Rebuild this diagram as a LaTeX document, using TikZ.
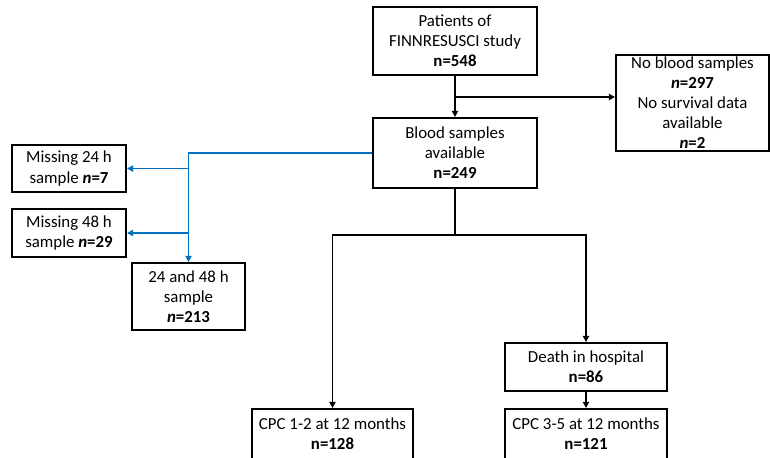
\documentclass[tikz,border=0pt]{standalone}
\usepackage{fontspec}
\setmainfont{Carlito}
\usetikzlibrary{arrows.meta}
\definecolor{flowblue}{RGB}{0,112,192}
\begin{document}
\begin{tikzpicture}[x=0.02cm, y=-0.02cm,
	box/.style={shape=rectangle, draw=black, line width=1.1pt, inner sep=0pt, align=center, font=\fontsize{9.6}{11.4}\selectfont},
	flow/.style={line width=1.1pt, -{Triangle[length=3.5pt,width=3.5pt]}},
	side/.style={flow, draw=flowblue}]
	\useasboundingbox (0,0) rectangle (770,457);
	\draw (455,41) node[box, minimum width=3.28cm, minimum height=1.36cm](pat){Patients of\\FINNRESUSCI study\\\textbf{n=548}};
	\draw (692.5,103) node[box, minimum width=3.06cm, minimum height=1.92cm](nob){No blood samples\\\textbf{\textit{n}=297}\\No survival data\\available\\\textbf{\textit{n}=2}};
	\draw (455,153) node[box, minimum width=3.28cm, minimum height=1.40cm](blood){Blood samples\\available\\\textbf{n=249}};
	\draw (69,168.5) node[box, minimum width=2.28cm, minimum height=0.94cm](m24){Missing 24 h\\sample \textbf{\textit{n}=7}};
	\draw (69,233) node[box, minimum width=2.28cm, minimum height=0.96cm](m48){Missing 48 h\\sample \textbf{\textit{n}=29}};
	\draw (188.5,296.5) node[box, minimum width=2.26cm, minimum height=1.34cm](both){24 and 48 h\\sample\\\textbf{\textit{n}=213}};
	\draw (586,367) node[box, minimum width=3.24cm, minimum height=0.96cm](death){Death in hospital\\\textbf{n=86}};
	\draw (332.5,434) node[box, minimum width=3.22cm, minimum height=1.00cm](cpcgood){CPC 1-2 at 12 months\\\textbf{n=128}};
	\draw (586,434) node[box, minimum width=3.24cm, minimum height=1.00cm](cpcbad){CPC 3-5 at 12 months\\\textbf{n=121}};
	
	\coordinate (split) at (455,97);
	\coordinate (fork) at (455,235);
	\draw [flow](pat) -- (blood);
	\draw [flow](split) -- (split -| nob.west);
	\draw [line width=1.1pt](blood) -- (fork);
	\draw [flow](fork) -| (cpcgood.north);
	\draw [flow](fork) -| (death.north);
	\draw [flow](death) -- (cpcbad);
	
	\draw [side](blood.west) -| (both.north);
	\draw [side](both.north |- m24.east) -- (m24.east);
	\draw [side](both.north |- m48.east) -- (m48.east);
\end{tikzpicture}
\end{document}
